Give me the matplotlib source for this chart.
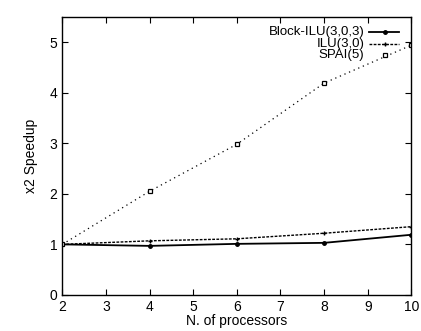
import numpy as np
import matplotlib
matplotlib.use('Agg')
import matplotlib.pyplot as plt
from matplotlib.lines import Line2D

# data
procs = [2, 4, 6, 8, 10]
block_ilu = [1.0, 0.97, 1.01, 1.03, 1.19]
ilu = [1.0, 1.07, 1.11, 1.22, 1.35]
spai = [1.0, 2.05, 2.98, 4.19, 4.94]
labels = ['Block-ILU(3,0,3)', 'ILU(3,0)', 'SPAI(5)']

plt.rcParams['font.family'] = ['Liberation Sans', 'DejaVu Sans']
fs = 10

fig = plt.figure(figsize=(4.21, 3.31), dpi=100)
ax = fig.add_axes([0.148, 0.109, 0.829, 0.840])

styles = [dict(linestyle='-', lw=1.3, marker='o', ms=2.5),
          dict(linestyle=(0, (2, 1)), lw=1.0, marker='+', ms=3),
          dict(linestyle=(0, (1, 3)), lw=0.9, marker='s', ms=3.5, mfc='white', mew=0.9)]
series = [block_ilu, ilu, spai]
for ys, st in zip(series, styles):
    ax.plot(procs, ys, color='black', **st)

ax.set_xlim(2, 10)
ax.set_ylim(0, 5.5)
ax.set_xticks(np.arange(2, 11, 1))
ax.set_yticks(np.arange(0, 6, 1))
ax.tick_params(direction='in', top=True, right=True, labelsize=fs, length=4)
for s in ax.spines.values():
    s.set_linewidth(1.0)

ax.set_xlabel('N. of processors', fontsize=fs, labelpad=0)
ax.set_ylabel('x2 Speedup', fontsize=fs, labelpad=8)

# gnuplot-style key: right aligned text, sample to the right
key_y = [0.945, 0.903, 0.862]
for lab, yk, st in zip(labels, key_y, styles):
    ax.text(0.865, yk, lab, transform=ax.transAxes, ha='right', va='center',
            fontsize=9.5, zorder=5,
            bbox=dict(facecolor='white', edgecolor='none', pad=0))
    if st['marker'] == 's':
        xs, ys_ = [0.925], [yk]
        st2 = dict(st, linestyle='none')
    else:
        xs, ys_ = [0.88, 0.925, 0.965], [yk, yk, yk]
        st2 = dict(st, markevery=[1])
    ax.add_line(Line2D(xs, ys_, transform=ax.transAxes, color='black',
                       zorder=5, **st2))

fig.savefig('out.png', dpi=100)
